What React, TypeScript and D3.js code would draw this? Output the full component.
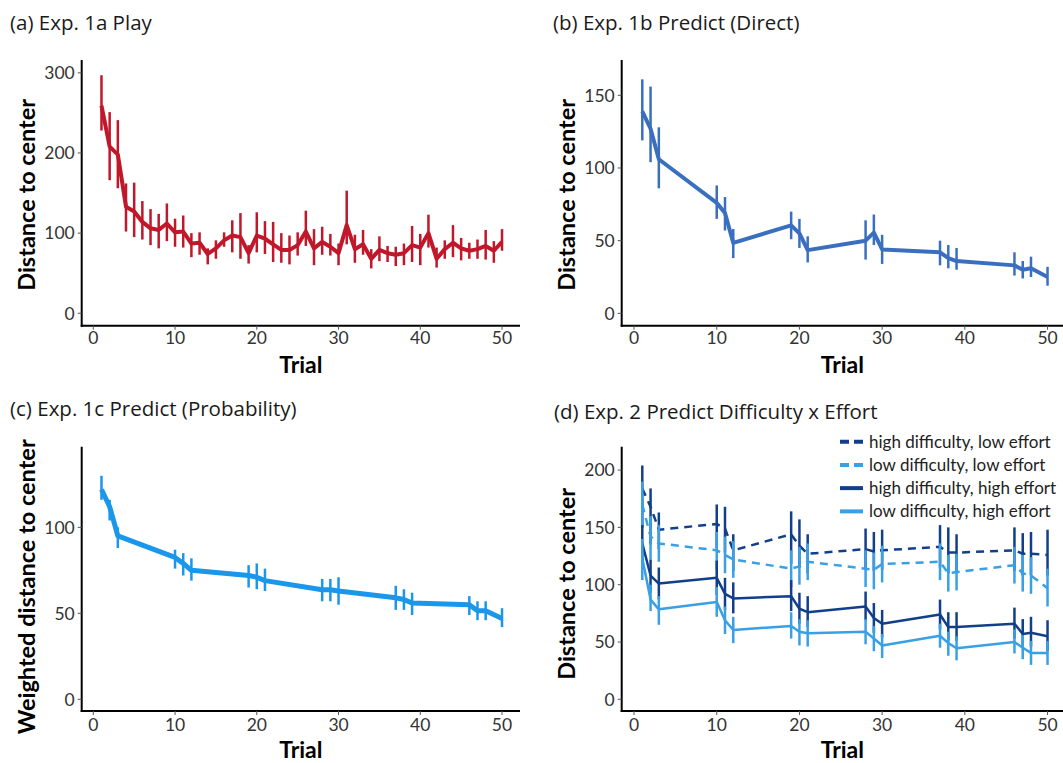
import React from "react";
import * as d3 from "d3";

// ---------- Data ----------
const trialsAll = [1,2,3,4,5,6,7,8,9,10,11,12,13,14,15,16,17,18,19,20,21,22,23,24,25,26,27,28,29,30,31,32,33,34,35,36,37,38,39,40,41,42,43,44,45,46,47,48,49,50];
const trialsSparse = [1,2,3,10,11,12,19,20,21,28,29,30,37,38,39,46,47,48,50];
const xTicks = [0,10,20,30,40,50];

// (a) Exp. 1a Play
const meanA = [259,208,198,133,127,114,106,104,112,101,102,87,88,74,81,91,97,95,75,97,93,86,79,79,85,102,81,89,83,75,110,80,86,68,79,75,73,75,85,82,100,68,80,88,81,78,80,84,78,89];
const loA = [228,166,156,102,95,92,85,81,90,83,82,70,73,61,68,83,76,68,62,76,74,64,63,61,72,84,60,73,72,60,86,63,73,56,65,64,59,60,64,60,82,57,68,70,66,68,68,67,63,78];
const hiA = [297,251,241,162,163,140,130,124,137,118,122,100,101,81,91,101,116,125,85,126,115,114,100,97,101,128,105,108,99,87,153,98,104,80,96,84,83,87,109,99,123,82,91,110,94,88,92,104,90,105];

// (b) Exp. 1b Predict (Direct)
const meanB = [139,127,106,76,69,48.5,60.5,55,43.5,50,55.5,44,42,38,36,33,30,31,25];
const loB = [119,104,86,65,57,38,51,45,35,37,47,34,33,31,30,26,24,25,19];
const hiB = [161,156,128,88,80,58,70,65,53,64,68,54,50,47,45,42,36,39,32];

// (c) Exp. 1c Predict (Probability)
const meanC = [122,112,95,82.5,79,75,72,71,69,63.7,63.7,63,59,58,56,55,51.5,51.5,47];
const loC = [116,104,88,76,72,69,65,64,63,57,57,55,52,52,49,49,46,46,42];
const hiC = [130,116,100,87,85,82,78,79,76,70,70,71,66,64,62,60,57,57,53];

// (d) Exp. 2 Predict Difficulty x Effort
const seriesNamesD = ["high difficulty, low effort","low difficulty, low effort","high difficulty, high effort","low difficulty, high effort"];
const meanHDLE = [184,168,148,153,149,130,144,134,127,131,129,130,133,128,128,130,127,127,126];
const loHDLE = [150,135,131,132,128,112,118,115,110,113,112,113,115,110,110,112,108,108,108];
const hiHDLE = [204,184,163,170,168,144,164,157,144,149,146,148,152,150,144,150,145,146,148];
const meanLDLE = [170,142,136,130,126,122,114,116,120,114,113,118,120,110,111,117,110,108,97];
const loLDLE = [150,122,120,113,110,106,98,100,104,98,96,102,104,94,95,101,94,92,81];
const hiLDLE = [190,160,152,146,142,138,130,133,136,130,128,134,136,126,127,133,126,124,114];
const meanHDHE = [136,108,101,106,92,88,90,79,76,81,71,66,74,63,63,66,57,58,55];
const loHDHE = [118,93,87,91,78,75,77,66,63,69,58,54,61,51,51,53,46,46,42];
const hiHDHE = [152,122,115,121,106,102,104,93,90,94,84,78,87,76,76,80,70,72,69];
const meanLDHE = [123,87,78.5,85,69,60.5,64,59,57.6,59,53,47,55.5,49,44.5,50,45,40.5,40.5];
const loLDHE = [104,77,65,72,57,49,53,47,46,48,42,36,45,38,34,40,35,30,30];
const hiLDHE = [140,100,90,98,81,72,76,70,69,70,64,57,66,59,55,61,56,51,51];

// ---------- Styling ----------
const RED = "#c0182a";
const BLUE_B = "#3a6fc0";
const BLUE_C = "#1a96ea";
const DARK_D = "#123f8a";
const LIGHT_D = "#3aa0e6";
const AXIS_FONT = "Lato, 'Open Sans', sans-serif";
const TITLE_FONT = "'Open Sans', 'Noto Sans', sans-serif";

type Series = {
  x: number[];
  mean: number[];
  lo: number[];
  hi: number[];
  color: string;
  lineWidth: number;
  barWidth: number;
  dash?: string;
};

type PanelProps = {
  title: string;
  titleX: number;
  titleY: number;
  xPx: [number, number];
  xDomain: [number, number];
  yPx: [number, number];
  yDomain: [number, number];
  yTicks: number[];
  yLabel: string;
  yLabelX: number;
  yLabelShift: number;
  xLabelY: number;
  tickLabelY: number;
  series: Series[];
};

function Panel(p: PanelProps) {
  const x = d3.scaleLinear().domain(p.xDomain).range(p.xPx);
  const y = d3.scaleLinear().domain(p.yDomain).range(p.yPx);
  const left = p.xPx[0];
  const bottom = p.yPx[0];
  const line = d3.line<[number, number]>().x(d => x(d[0])).y(d => y(d[1]));
  const yMid = (p.yPx[0] + p.yPx[1]) / 2 + p.yLabelShift;
  const xMid = (p.xPx[0] + p.xPx[1]) / 2;
  return (
    <g>
      <text x={p.titleX} y={p.titleY} fontFamily={TITLE_FONT} fontSize={20.5} fill="#1a1a1a">{p.title}</text>
      {/* axes */}
      <line x1={left} x2={left} y1={p.yPx[1]} y2={bottom + 1} stroke="#000" strokeWidth={2} />
      <line x1={left - 1} x2={p.xPx[1]} y1={bottom} y2={bottom} stroke="#000" strokeWidth={2} />
      {p.yTicks.map(t => (
        <g key={"y" + t}>
          <line x1={left - 4} x2={left} y1={y(t)} y2={y(t)} stroke="#555" strokeWidth={1} />
          <text x={left - 7} y={y(t)} dy="0.36em" textAnchor="end" fontFamily={AXIS_FONT} fontSize={17.5} fill="#333">{t}</text>
        </g>
      ))}
      {xTicks.map(t => (
        <g key={"x" + t}>
          <line x1={x(t)} x2={x(t)} y1={bottom} y2={bottom + 4} stroke="#555" strokeWidth={1} />
          <text x={x(t)} y={p.tickLabelY} textAnchor="middle" fontFamily={AXIS_FONT} fontSize={17.5} fill="#333">{t}</text>
        </g>
      ))}
      <text x={xMid} y={p.xLabelY} textAnchor="middle" fontFamily={AXIS_FONT} fontWeight="bold" fontSize={23} fill="#000">Trial</text>
      <text transform={`translate(${p.yLabelX},${yMid}) rotate(-90)`} textAnchor="middle" fontFamily={AXIS_FONT} fontWeight="bold" fontSize={23.5} fill="#000">{p.yLabel}</text>
      {/* data */}
      {p.series.map((s, si) => (
        <g key={"s" + si}>
          {s.x.map((t, i) => (
            <line key={i} x1={x(t)} x2={x(t)} y1={y(s.lo[i])} y2={y(s.hi[i])} stroke={s.color} strokeWidth={s.barWidth} />
          ))}
          <path d={line(s.x.map((t, i) => [t, s.mean[i]] as [number, number])) || ""} fill="none" stroke={s.color} strokeWidth={s.lineWidth} strokeDasharray={s.dash} strokeLinejoin="round" />
        </g>
      ))}
    </g>
  );
}

export default function App() {
  const seriesD: Series[] = [
    { x: trialsSparse, mean: meanHDLE, lo: loHDLE, hi: hiHDLE, color: DARK_D, lineWidth: 2.5, barWidth: 2.5, dash: "8,6" },
    { x: trialsSparse, mean: meanLDLE, lo: loLDLE, hi: hiLDLE, color: LIGHT_D, lineWidth: 2.5, barWidth: 2.5, dash: "8,6" },
    { x: trialsSparse, mean: meanHDHE, lo: loHDHE, hi: hiHDHE, color: DARK_D, lineWidth: 2.5, barWidth: 2.5 },
    { x: trialsSparse, mean: meanLDHE, lo: loLDHE, hi: hiLDHE, color: LIGHT_D, lineWidth: 2.5, barWidth: 2.5 },
  ];
  const legendColors = [DARK_D, LIGHT_D, DARK_D, LIGHT_D];
  const legendDash = ["9,5", "9,5", undefined, undefined];
  const legendY = d3.scaleBand<number>().domain([0, 1, 2, 3]).range([430, 523]);
  return (
    <svg width={1063} height={763} style={{ position: "absolute", left: 0, top: 0, background: "#fff" }}>
      <Panel
        title="(a) Exp. 1a Play" titleX={10} titleY={30}
        xPx={[81.7, 520]} xDomain={[-1.42, 52.2]}
        yPx={[325.7, 60]} yDomain={[-15.5, 316]}
        yTicks={[0, 100, 200, 300]} yLabel="Distance to center" yLabelX={35} yLabelShift={2}
        xLabelY={373} tickLabelY={344}
        series={[{ x: trialsAll, mean: meanA, lo: loA, hi: hiA, color: RED, lineWidth: 4, barWidth: 2.5 }]}
      />
      <Panel
        title="(b) Exp. 1b Predict (Direct)" titleX={553} titleY={30}
        xPx={[621.7, 1063]} xDomain={[-1.49, 51.87]}
        yPx={[325.7, 60]} yDomain={[-8.5, 174.3]}
        yTicks={[0, 50, 100, 150]} yLabel="Distance to center" yLabelX={575} yLabelShift={2}
        xLabelY={373} tickLabelY={344}
        series={[{ x: trialsSparse, mean: meanB, lo: loB, hi: hiB, color: BLUE_B, lineWidth: 4, barWidth: 2.5 }]}
      />
      <Panel
        title="(c) Exp. 1c Predict (Probability)" titleX={10} titleY={416}
        xPx={[81.7, 520]} xDomain={[-1.42, 52.2]}
        yPx={[711, 446.7]} yDomain={[-6.8, 146.9]}
        yTicks={[0, 50, 100]} yLabel="Weighted distance to center" yLabelX={35} yLabelShift={8}
        xLabelY={758} tickLabelY={731}
        series={[{ x: trialsSparse, mean: meanC, lo: loC, hi: hiC, color: BLUE_C, lineWidth: 5, barWidth: 2.5 }]}
      />
      <Panel
        title="(d) Exp. 2 Predict Difficulty x Effort" titleX={554} titleY={419}
        xPx={[621.7, 1063]} xDomain={[-1.49, 51.87]}
        yPx={[711, 446.7]} yDomain={[-10.2, 220.4]}
        yTicks={[0, 50, 100, 150, 200]} yLabel="Distance to center" yLabelX={575} yLabelShift={5}
        xLabelY={758} tickLabelY={731}
        series={seriesD}
      />
      {/* legend for (d) */}
      {seriesNamesD.map((name, i) => {
        const cy = (legendY(i) || 0) + legendY.bandwidth() / 2;
        return (
          <g key={name}>
            <line x1={840} x2={863} y1={cy} y2={cy} stroke={legendColors[i]} strokeWidth={4} strokeDasharray={legendDash[i]} />
            <text x={869} y={cy} dy="0.35em" fontFamily={AXIS_FONT} fontSize={17} fill="#222">{name}</text>
          </g>
        );
      })}
    </svg>
  );
}
